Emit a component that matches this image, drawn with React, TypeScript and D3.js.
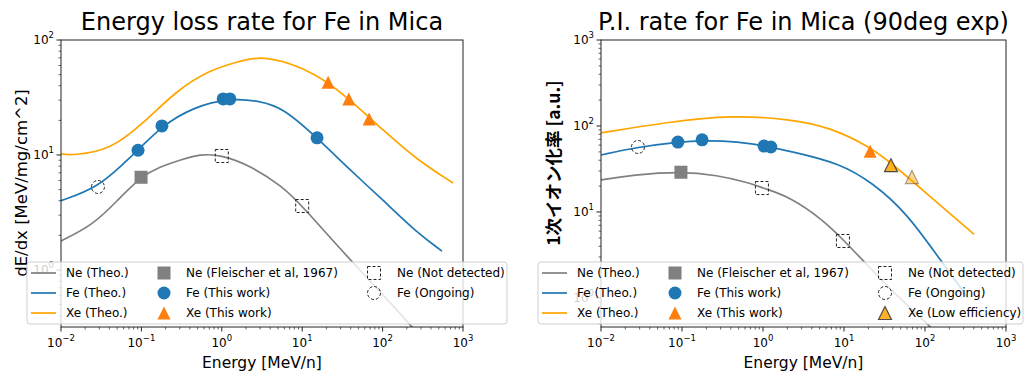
import React from 'react';
import * as d3 from 'd3';

type Pt = [number, number];

// --- left panel: energy loss rate (MeV/mg/cm^2) vs energy (MeV/n)
const lossNe: Pt[] = [[0.01, 1.79], [0.025, 2.46], [0.05, 4.0], [0.099, 6.5], [0.17, 7.9], [0.3, 9.0], [0.535, 10.2], [1.0, 10.0], [2.25, 8.1], [5.77, 5.3], [10, 3.6], [39.4, 1.22], [239, 0.32], [400, 0.2]];
const lossFe: Pt[] = [[0.01, 4.0], [0.0288, 5.2], [0.066, 9.0], [0.0908, 11.0], [0.18, 17.9], [0.44, 26], [1.2, 31.2], [3.0, 29.5], [5.8, 25.6], [15.3, 14.1], [39.4, 7.4], [101, 4.06], [268, 2.1], [548, 1.46]];
const lossXe: Pt[] = [[0.01, 10.2], [0.0141, 9.93], [0.0407, 11.0], [0.106, 18.9], [0.277, 36.7], [0.713, 54.8], [1.5, 64], [3.5, 75], [15.3, 51.6], [39.4, 30.1], [101, 16.5], [268, 9.06], [752, 5.71]];

const lossNeFleischer: Pt[] = [[0.099, 6.4]];
const lossNeNotDetected: Pt[] = [[1.0, 9.8], [10, 3.6]];
const lossFeThisWork: Pt[] = [[0.0908, 11.0], [0.18, 17.9], [1.04, 30.7], [1.26, 30.7], [15.3, 14.1]];
const lossFeOngoing: Pt[] = [[0.0288, 5.27]];
const lossXeThisWork: Pt[] = [[21, 43], [38, 30.7], [68, 20.6]];

// --- right panel: primary ionization rate (a.u.)
const piNe: Pt[] = [[0.01, 23.6], [0.025, 27], [0.094, 29.5], [0.27, 27], [0.69, 21.7], [1.0, 19], [2.15, 15], [5.5, 8.1], [9.7, 4.8], [18, 2.6], [46, 1.03], [126, 0.44], [200, 0.26]];
const piFe: Pt[] = [[0.01, 46], [0.0286, 57], [0.089, 65], [0.177, 68], [0.5, 66], [1.1, 58], [2.15, 51], [8.9, 37], [22.8, 21.7], [60, 9.7], [162, 2.6], [340, 1.0]];
const piXe: Pt[] = [[0.01, 83], [0.065, 111], [0.43, 134], [2.15, 120], [6.7, 97], [21, 57], [37, 38], [94, 18], [403, 5.5]];

const piNeFleischer: Pt[] = [[0.097, 29]];
const piNeNotDetected: Pt[] = [[0.97, 19], [9.7, 4.6]];
const piFeThisWork: Pt[] = [[0.089, 65], [0.177, 69], [1.03, 58.5], [1.25, 57]];
const piFeOngoing: Pt[] = [[0.0286, 57]];
const piXeThisWork: Pt[] = [[21, 51]];
const piXeLowEff: Pt[] = [[38, 35], [69, 25.5]];
const piXeLowEffAlpha = [0.85, 0.45];

const GRAY = '#808080';
const BLUE = '#1f77b4';
const ORANGE = '#ffa500';
const TORANGE = '#ff7f0e';
const FONT = 'DejaVu Sans, sans-serif';

const sup = (k: number) => (k < 0 ? '\u2212' + Math.abs(k) : String(k));

const tri = (s: number) => `M0,${-s}L${-s},${s}L${s},${s}Z`;

function Marker({ kind, x, y, fill, opacity = 1, stroke }: any) {
  if (kind === 'circle') return <circle cx={x} cy={y} r={6.5} fill={fill} />;
  if (kind === 'square') return <rect x={x - 6.5} y={y - 6.5} width={13} height={13} fill={fill} />;
  if (kind === 'tri') return <path d={tri(6.5)} transform={`translate(${x},${y})`} fill={fill} />;
  if (kind === 'trilow')
    return <path d={tri(6.5)} transform={`translate(${x},${y})`} fill={fill} fillOpacity={opacity} stroke={stroke} strokeOpacity={opacity} strokeWidth={1.2} />;
  if (kind === 'dsquare')
    return <rect x={x - 6.5} y={y - 6.5} width={13} height={13} fill="none" stroke="#222" strokeWidth={1} strokeDasharray="3,2" />;
  if (kind === 'dcircle')
    return <circle cx={x} cy={y} r={6.5} fill="none" stroke="#222" strokeWidth={1} strokeDasharray="3,2" />;
  return null;
}

function Panel({ id, left, right, yMin, yMax, title, ylabel, ylabelX, ylabelY, ylabelFont, curves, marks, legend, legLeft, legWidth }: any) {
  const top = 40, bottom = 327;
  const x = d3.scaleLog().domain([1e-2, 1e3]).range([left, right]);
  const y = d3.scaleLog().domain([yMin, yMax]).range([bottom, top]);
  // B-spline through the read-off points keeps the theory curves smooth
  const line = d3.line<Pt>().x(d => x(d[0])).y(d => y(d[1])).curve(d3.curveBasis);

  const xMajor = d3.range(-2, 4);
  const xMinor: number[] = [];
  for (let k = -2; k < 3; k++) for (let j = 2; j < 10; j++) xMinor.push(j * 10 ** k);
  const yMajor = d3.range(Math.ceil(Math.log10(yMin)), Math.floor(Math.log10(yMax)) + 1);
  const yMinor: number[] = [];
  for (let k = Math.floor(Math.log10(yMin)); k < Math.log10(yMax); k++)
    for (let j = 2; j < 10; j++) { const v = j * 10 ** k; if (v > yMin && v < yMax) yMinor.push(v); }

  const cx = (left + right) / 2;
  const rows = [273, 293, 313];

  return (
    <g fontFamily={FONT}>
      <defs>
        <clipPath id={id}><rect x={left} y={top} width={right - left} height={bottom - top} /></clipPath>
      </defs>
      <g clipPath={`url(#${id})`}>
        {curves.map((c: any, i: number) => (
          <path key={i} d={line(c.data) || ''} fill="none" stroke={c.color} strokeWidth={1.7} />
        ))}
        {marks.map((m: any, i: number) =>
          m.data.map((d: Pt, j: number) => (
            <Marker key={i + '-' + j} kind={m.kind} x={x(d[0])} y={y(d[1])} fill={m.fill}
              opacity={m.alpha ? m.alpha[j] : 1} stroke={m.stroke} />
          ))
        )}
      </g>
      {/* axes frame */}
      <rect x={left} y={top} width={right - left} height={bottom - top} fill="none" stroke="#222" strokeWidth={1} />
      {xMinor.map((v, i) => <line key={'xm' + i} x1={x(v)} x2={x(v)} y1={bottom} y2={bottom + 2.5} stroke="#222" strokeWidth={0.7} />)}
      {xMajor.map(k => (
        <g key={'xt' + k}>
          <line x1={x(10 ** k)} x2={x(10 ** k)} y1={bottom} y2={bottom + 4.5} stroke="#222" strokeWidth={1} />
          <text x={x(10 ** k)} y={bottom + 20} textAnchor="middle" fontSize={12}>
            10<tspan dy={-6} fontSize={8.5}>{sup(k)}</tspan>
          </text>
        </g>
      ))}
      {yMinor.map((v, i) => <line key={'ym' + i} x1={left - 2.5} x2={left} y1={y(v)} y2={y(v)} stroke="#222" strokeWidth={0.7} />)}
      {yMajor.map(k => (
        <g key={'yt' + k}>
          <line x1={left - 4.5} x2={left} y1={y(10 ** k)} y2={y(10 ** k)} stroke="#222" strokeWidth={1} />
          <text x={left - 7} y={y(10 ** k) + 4} textAnchor="end" fontSize={12}>
            10<tspan dy={-6} fontSize={8.5}>{sup(k)}</tspan>
          </text>
        </g>
      ))}
      <text x={cx} y={30} textAnchor="middle" fontSize={24}>{title}</text>
      <text x={cx} y={368} textAnchor="middle" fontSize={15.5}>Energy [MeV/n]</text>
      <text transform={`translate(${ylabelX},${ylabelY}) rotate(-90)`} textAnchor="middle" dominantBaseline="central"
        fontSize={ylabelFont.size} fontFamily={ylabelFont.family} fontWeight={ylabelFont.weight}>{ylabel}</text>

      {/* legend */}
      <rect x={legLeft} y={262} width={legWidth} height={62} rx={3} fill="#fff" fillOpacity={0.8} stroke="#d0d0d0" strokeWidth={1} />
      {legend.map((col: any[], ci: number) =>
        col.map((e: any, ri: number) => {
          const mx = legLeft + [16, 137, 347][ci];
          const tx = legLeft + [39, 159, 370][ci];
          const ry = rows[ri];
          return (
            <g key={ci + '-' + ri}>
              {e.kind === 'line'
                ? <line x1={legLeft + 4} x2={legLeft + 29} y1={ry} y2={ry} stroke={e.color} strokeWidth={1.7} />
                : <Marker kind={e.kind} x={mx} y={ry} fill={e.color} opacity={0.85} stroke="#333" />}
              <text x={tx} y={ry + 4.3} fontSize={12}>{e.label}</text>
            </g>
          );
        })
      )}
    </g>
  );
}

export default function App() {
  const baseLegend = (lowEff: boolean) => [
    [
      { kind: 'line', color: GRAY, label: 'Ne (Theo.)' },
      { kind: 'line', color: BLUE, label: 'Fe (Theo.)' },
      { kind: 'line', color: ORANGE, label: 'Xe (Theo.)' },
    ],
    [
      { kind: 'square', color: GRAY, label: 'Ne (Fleischer et al, 1967)' },
      { kind: 'circle', color: BLUE, label: 'Fe (This work)' },
      { kind: 'tri', color: TORANGE, label: 'Xe (This work)' },
    ],
    [
      { kind: 'dsquare', label: 'Ne (Not detected)' },
      { kind: 'dcircle', label: 'Fe (Ongoing)' },
      ...(lowEff ? [{ kind: 'trilow', color: ORANGE, label: 'Xe (Low efficiency)' }] : []),
    ],
  ];

  return (
    <svg width={1025} height={376} style={{ position: 'absolute', left: 0, top: 0, background: '#fff' }}>
      <Panel
        id="clipL" left={61} right={463} yMin={10 ** -0.496} yMax={100}
        title="Energy loss rate for Fe in Mica"
        ylabel="dE/dx [MeV/mg/cm^2]" ylabelX={21} ylabelY={183}
        ylabelFont={{ size: 16.5, family: FONT, weight: 'normal' }}
        curves={[{ data: lossNe, color: GRAY }, { data: lossFe, color: BLUE }, { data: lossXe, color: ORANGE }]}
        marks={[
          { kind: 'square', data: lossNeFleischer, fill: GRAY },
          { kind: 'dsquare', data: lossNeNotDetected },
          { kind: 'circle', data: lossFeThisWork, fill: BLUE },
          { kind: 'dcircle', data: lossFeOngoing },
          { kind: 'tri', data: lossXeThisWork, fill: TORANGE },
        ]}
        legend={baseLegend(false)} legLeft={27} legWidth={480}
      />
      <Panel
        id="clipR" left={601} right={1006} yMin={10 ** -0.337} yMax={1000}
        title="P.I. rate for Fe in Mica (90deg exp)"
        ylabel="1次イオン化率 [a.u.]" ylabelX={552} ylabelY={163}
        ylabelFont={{ size: 17.5, family: 'Noto Sans CJK JP, sans-serif', weight: 'bold' }}
        curves={[{ data: piNe, color: GRAY }, { data: piFe, color: BLUE }, { data: piXe, color: ORANGE }]}
        marks={[
          { kind: 'square', data: piNeFleischer, fill: GRAY },
          { kind: 'dsquare', data: piNeNotDetected },
          { kind: 'circle', data: piFeThisWork, fill: BLUE },
          { kind: 'dcircle', data: piFeOngoing },
          { kind: 'tri', data: piXeThisWork, fill: TORANGE },
          { kind: 'trilow', data: piXeLowEff, fill: ORANGE, stroke: '#333', alpha: piXeLowEffAlpha },
        ]}
        legend={baseLegend(true)} legLeft={538} legWidth={485}
      />
    </svg>
  );
}
